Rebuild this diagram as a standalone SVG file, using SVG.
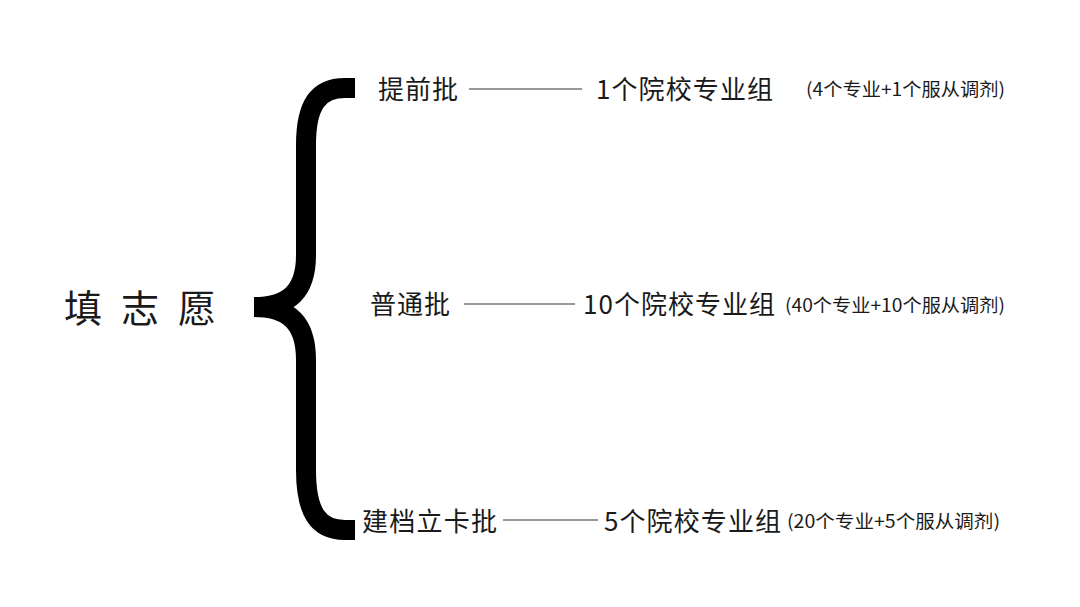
<svg xmlns="http://www.w3.org/2000/svg" width="1080" height="607" viewBox="0 0 1080 607">
<style>
.t{font-family:"Noto Sans CJK SC","Noto Sans",sans-serif;fill:#1a1a1a}
.m{font-size:26px}
.s{font-size:18px}
.b{fill:none;stroke:#000;stroke-width:20}
.ln{stroke:#777;stroke-width:1.5}
</style>
<rect width="1080" height="607" fill="#fff"/>
<g id="root"><text class="t" x="64" y="322" font-size="38" letter-spacing="19">填志愿</text></g>
<g id="brace">
<path class="b" d="M355,88 H345 C318,88 306,105 306,145 V255 C306,292 288,307 254,307"/>
<path class="b" d="M254,307 C288,307 306,322 306,360 V470 C306,512 318,530 345,530 H355"/>
</g>
<g id="connectors">
<line class="ln" x1="469" y1="89" x2="582" y2="89"/>
<line class="ln" x1="464" y1="304" x2="575" y2="304"/>
<line class="ln" x1="503" y1="520" x2="598" y2="520"/>
</g>
<g id="n1">
<text class="t m" x="378" y="99" textLength="80">提前批</text>
<text class="t m" x="596" y="99" textLength="177">1个院校专业组</text>
<text class="t s" x="806" y="96" textLength="199" lengthAdjust="spacingAndGlyphs">(4个专业+1个服从调剂)</text>
</g>
<g id="n2">
<text class="t m" x="370" y="314" textLength="80">普通批</text>
<text class="t m" x="583" y="314" textLength="192">10个院校专业组</text>
<text class="t s" x="785" y="312" textLength="220" lengthAdjust="spacingAndGlyphs">(40个专业+10个服从调剂)</text>
</g>
<g id="n3">
<text class="t m" x="362" y="531" textLength="135">建档立卡批</text>
<text class="t m" x="604" y="531" textLength="177">5个院校专业组</text>
<text class="t s" x="787" y="528" textLength="213" lengthAdjust="spacingAndGlyphs">(20个专业+5个服从调剂)</text>
</g>
</svg>
